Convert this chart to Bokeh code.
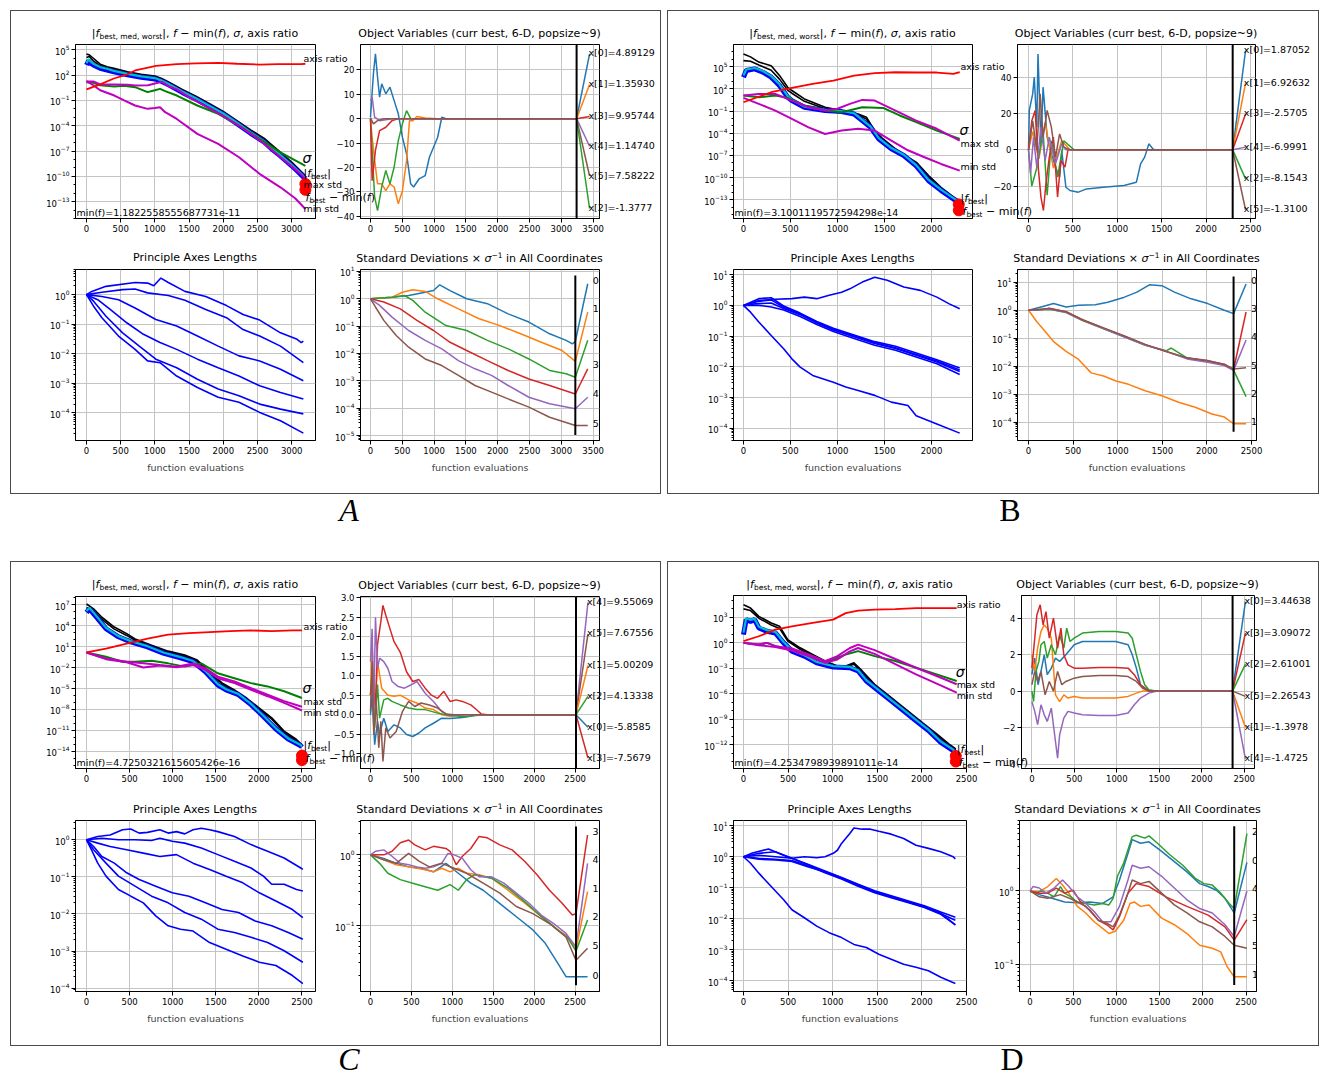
from bokeh.plotting import figure
from bokeh.models import Range1d, Label, Span, FixedTicker, Div, Spacer
from bokeh.layouts import row, column
from bokeh.embed import file_html
from bokeh.resources import INLINE

# ===================== DATA (x, log10(y)) for log plots, (x, y) for linear =====================
# ---------- Panel A ----------
A_F_WORST = [(0,4.5),(40,4.4),(100,4.0),(200,3.3),(300,3.0),(400,2.8),(600,2.4),(800,2.1),(1000,1.9),(1100,1.6),(1200,1.2),(1400,0.3),(1600,-0.5),(1800,-1.4),(2000,-2.3),(2200,-3.4),(2400,-4.5),(2600,-5.5),(2700,-6.2),(2800,-6.9),(3000,-8.3),(3100,-9.1),(3200,-9.9)]
A_F_MEDIAN = [(0,4.1),(40,4.2),(100,3.7),(200,3.1),(300,2.8),(400,2.6),(600,2.25),(800,1.95),(1000,1.75),(1100,1.45),(1200,1.05),(1400,0.15),(1600,-0.65),(1800,-1.55),(2000,-2.45),(2200,-3.55),(2400,-4.7),(2600,-5.7),(2700,-6.45),(2800,-7.1),(3000,-8.5),(3100,-9.3),(3200,-10.1)]
A_F_BEST = [(0,3.2),(30,3.7),(60,3.4),(100,3.2),(200,2.8),(300,2.6),(400,2.4),(600,2.05),(800,1.75),(1000,1.55),(1100,1.25),(1200,0.85),(1400,-0.05),(1600,-0.85),(1800,-1.75),(2000,-2.65),(2200,-3.75),(2400,-4.9),(2600,-5.95),(2700,-6.7),(2800,-7.35),(3000,-8.75),(3100,-9.5),(3200,-10.3)]
A_F_DIFF = [(0,3.4),(30,3.9),(60,3.6),(100,3.35),(200,2.95),(300,2.75),(400,2.5),(600,2.15),(800,1.85),(1000,1.65),(1100,1.35),(1200,0.95),(1400,0.05),(1600,-0.75),(1800,-1.65),(2000,-2.55),(2200,-3.65),(2400,-4.8),(2600,-5.85),(2700,-6.6),(2800,-7.25),(3000,-8.65),(3100,-9.4),(3200,-10.2)]
A_AXISRATIO = [(0,0.3),(200,0.9),(400,1.6),(600,2.1),(710,2.55),(900,2.9),(1015,3.1),(1320,3.3),(1600,3.4),(1925,3.45),(2200,3.35),(2530,3.25),(2800,3.3),(3140,3.3),(3200,3.35)]
A_SIGMA = [(0,1.16),(100,1.1),(200,0.8),(407,0.65),(550,0.75),(710,0.57),(893,-0.02),(1000,0.2),(1075,0.37),(1150,0.1),(1320,-0.42),(1620,-1.6),(1925,-2.6),(2230,-3.98),(2530,-5.56),(2835,-7.15),(3200,-8.75)]
A_MAXSTD = [(0,1.24),(100,1.25),(200,0.9),(407,0.9),(600,0.85),(710,0.77),(900,0.8),(1000,1.0),(1100,1.2),(1200,0.7),(1320,0.3),(1500,-0.6),(1700,-1.5),(1925,-2.5),(2230,-4.0),(2530,-5.7),(2835,-7.7),(3100,-9.5),(3200,-10.3)]
A_MINSTD = [(0,1.28),(100,0.8),(200,0.2),(407,-0.42),(550,-1.0),(710,-1.6),(893,-2.0),(1000,-1.9),(1075,-1.8),(1150,-2.4),(1320,-3.2),(1620,-4.97),(1925,-6.16),(2230,-7.74),(2530,-9.7),(2835,-11.3),(3050,-12.6),(3200,-13.87)]
A_MIN_DOTS = [(3200,-10.9),(3200,-11.6)]
A_X0 = [(0,0.6),(46,18.4),(78,26.6),(111,17),(143,8.8),(176,14.3),(241,10.2),(306,12.9),(372,7.4),(437,2),(502,-7.6),(567,-14.4),(632,-26.7),(678,-28),(763,-24.7),(860,-23.3),(926,-15.8),(991,-11.7),(1056,-7.6),(1121,0.6),(1186,0),(1317,0),(3240,0)]
A_X1 = [(0,0),(26,-7.6),(65,-17),(111,-26.7),(176,-26.7),(241,-29.5),(306,-26.7),(372,-28),(437,-34.9),(502,-29.5),(567,-17.2),(613,-0.8),(665,-0.8),(730,0.9),(860,0.3),(1056,0),(3240,0)]
A_X2 = [(0,0),(26,-13),(65,-32),(111,-37.7),(176,-28),(241,-21.2),(306,-26.7),(372,-19.8),(437,-9),(502,-2.1),(567,3.3),(632,0),(3240,0)]
A_X3 = [(0,0),(26,-25.4),(78,-13),(143,-4.9),(241,-3.5),(339,-0.8),(437,0),(3240,0)]
A_X4 = [(0,7.4),(26,8.8),(65,0.6),(143,-0.8),(339,0),(3240,0)]
A_X5 = [(0,0.3),(46,-2.1),(111,-0.8),(209,0),(3240,0)]
A_X_LABELS = [(0,26.6,"x[0]=4.89129"),(1,14.0,"x[1]=1.35930"),(3,0.9,"x[3]=9.95744"),(4,-11.3,"x[4]=1.14740"),(5,-23.5,"x[5]=7.58222"),(2,-36.8,"x[2]=-1.3777")]
A_PA1 = [(0,0),(77,0.11),(285,0.28),(710,0.41),(893,0.39),(984,0.3),(1087,0.56),(1196,0.41),(1439,0.11),(1743,-0.06),(2047,-0.37),(2289,-0.67),(2532,-0.86),(2836,-1.29),(3079,-1.51),(3140,-1.62),(3170,-1.57)]
A_PA2 = [(0,0),(225,0.08),(528,0.17),(710,0.19),(893,0.06),(1196,-0.03),(1439,-0.19),(1743,-0.5),(2047,-0.78),(2289,-1.18),(2532,-1.4),(2836,-1.74),(3170,-2.3)]
A_PA3 = [(0,0),(225,-0.06),(468,-0.17),(710,-0.45),(1014,-0.84),(1318,-1.06),(1622,-1.4),(1925,-1.74),(2229,-2.07),(2532,-2.24),(2836,-2.52),(3170,-2.91)]
A_PA4 = [(0,0),(164,-0.17),(346,-0.5),(589,-0.95),(832,-1.34),(1075,-1.62),(1318,-1.85),(1622,-2.18),(1925,-2.47),(2229,-2.75),(2532,-3.08),(2836,-3.31),(3170,-3.53)]
A_PA5 = [(0,0),(103,-0.22),(285,-0.73),(528,-1.29),(771,-1.74),(1014,-2.18),(1318,-2.47),(1622,-2.86),(1925,-3.19),(2229,-3.42),(2532,-3.7),(2836,-3.87),(3170,-4.03)]
A_PA6 = [(0,0),(103,-0.39),(225,-0.78),(468,-1.4),(710,-1.85),(893,-2.24),(1075,-2.3),(1318,-2.75),(1622,-3.14),(1925,-3.47),(2229,-3.64),(2532,-3.98),(2836,-4.26),(3170,-4.68)]
A_SD0 = [(0,0),(339,0.06),(600,0.12),(860,0.24),(991,0.3),(1088,0.51),(1251,0.3),(1512,0.0),(1838,-0.18),(2164,-0.55),(2490,-0.85),(2816,-1.28),(3076,-1.52),(3174,-1.65),(3220,-1.56)]
A_SD1 = [(0,0),(339,0.06),(502,0.24),(665,0.33),(860,0.27),(1056,0.0),(1382,-0.37),(1708,-0.73),(2034,-0.98),(2360,-1.28),(2685,-1.59),(3011,-1.89),(3220,-2.29)]
A_SD2 = [(0,0),(339,0.06),(534,0.12),(665,-0.06),(860,-0.49),(1186,-0.98),(1512,-1.16),(1838,-1.52),(2164,-1.83),(2490,-2.2),(2816,-2.62),(3076,-2.74),(3220,-2.87)]
A_SD3 = [(0,0),(209,-0.12),(469,-0.37),(730,-0.79),(991,-1.16),(1251,-1.59),(1512,-1.89),(1838,-2.26),(2164,-2.62),(2490,-2.93),(2816,-3.17),(3220,-3.48)]
A_SD4 = [(0,0),(143,-0.24),(339,-0.67),(600,-1.16),(860,-1.52),(1121,-1.83),(1382,-2.26),(1643,-2.56),(1903,-2.8),(2164,-3.17),(2490,-3.6),(2816,-3.84),(3220,-4.02)]
A_SD5 = [(0,0),(78,-0.3),(209,-0.79),(404,-1.34),(600,-1.77),(860,-2.2),(1121,-2.44),(1382,-2.8),(1643,-3.17),(1903,-3.41),(2164,-3.66),(2490,-3.96),(2816,-4.33),(3220,-4.63)]
A_SD_FAN = [(0,0.55,0.67),(1,-0.49,-0.37),(2,-1.52,-1.4),(3,-2.56,-2.41),(4,-3.6,-3.48),(5,-4.63,-4.55)]
A_MINF = "min(f)=1.1822558555687731e-11"

# ---------- Panel B ----------
B_F_WORST = [(0,6.7),(75,6.3),(163,5.6),(295,5.1),(383,3.8),(471,2.2),(515,1.76),(648,0.63),(868,-0.5),(1044,-0.94),(1220,-1.4),(1308,-1.84),(1396,-3.64),(1485,-4.77),(1617,-6.1),(1749,-7.24),(1837,-7.9),(1969,-9.7),(2101,-11.3),(2233,-12.6),(2290,-13.1)]
B_F_MEDIAN = [(0,5.8),(75,5.7),(163,5.2),(295,4.5),(383,3.3),(471,1.8),(515,1.4),(648,0.3),(868,-0.7),(1044,-1.0),(1220,-1.5),(1308,-2.1),(1396,-3.9),(1485,-5.0),(1617,-6.3),(1749,-7.4),(1837,-8.1),(1969,-9.9),(2101,-11.5),(2233,-12.8),(2290,-13.2)]
B_F_BEST = [(0,3.56),(30,4.46),(119,4.68),(207,4.23),(295,3.56),(383,2.43),(471,0.86),(515,0.4),(648,-0.5),(868,-0.94),(1044,-1.08),(1176,-1.4),(1264,-2.3),(1352,-3.2),(1440,-4.77),(1573,-6.1),(1705,-7.0),(1837,-8.4),(1969,-10.4),(2101,-11.7),(2233,-12.87),(2290,-13.3)]
B_F_DIFF = [(0,3.8),(30,4.6),(119,4.8),(207,4.4),(295,3.7),(383,2.6),(471,1.0),(515,0.5),(648,-0.4),(868,-0.85),(1044,-1.0),(1176,-1.3),(1264,-2.2),(1352,-3.1),(1440,-4.65),(1573,-6.0),(1705,-6.9),(1837,-8.3),(1969,-10.3),(2101,-11.6),(2233,-12.75),(2290,-13.2)]
B_AXISRATIO = [(0,0.18),(295,1.53),(515,2.12),(736,2.66),(956,3.1),(1176,3.78),(1396,4.1),(1617,4.23),(1837,4.19),(2057,4.19),(2233,4.0),(2300,4.23)]
B_SIGMA = [(0,1.08),(163,0.86),(339,1.08),(471,0.77),(648,-0.27),(868,-0.94),(1044,-1.17),(1264,-0.5),(1485,-0.58),(1661,-1.6),(1837,-2.5),(2057,-3.64),(2300,-4.77)]
B_MAXSTD = [(0,1.08),(163,1.3),(339,1.3),(515,0.4),(692,-0.5),(868,-0.94),(1000,-0.7),(1132,-0.04),(1264,0.5),(1396,0.4),(1617,-0.94),(1837,-2.3),(2057,-3.4),(2300,-5.0)]
B_MINSTD = [(0,0.77),(163,-0.04),(339,-0.94),(515,-2.07),(692,-3.2),(868,-4.1),(1044,-3.64),(1220,-3.4),(1396,-3.64),(1573,-5.0),(1749,-6.3),(1925,-7.24),(2101,-8.14),(2300,-9.04)]
B_MIN_DOTS = [(2290,-13.6),(2290,-14.4)]
B_X0 = [(0,0),(9,21.7),(47,30.8),(65,40),(93,12.5),(107,52.8),(140,3.3),(164,34.5),(210,7),(257,-2.2),(304,-9.5),(350,-15),(374,-0.4),(421,-20.6),(467,-22.4),(561,-23.3),(654,-21.5),(841,-20.6),(1075,-19.6),(1215,-17.8),(1262,-7.7),(1308,-4),(1355,3.3),(1402,0.5),(1425,0),(2299,0)]
B_X1 = [(0,0),(47,10),(117,-5),(187,15),(280,-10),(374,5),(467,0),(2299,0)]
B_X2 = [(0,0),(37,-20),(93,-10),(164,10),(210,-25),(257,5),(327,-15),(397,5),(514,0),(2299,0)]
B_X3 = [(0,0),(37,16),(75,21.7),(112,-11),(140,-26),(168,-33.4),(196,-18.7),(234,-4),(280,7),(327,-26),(365,-5.9),(411,-9.5),(444,0),(2299,0)]
B_X4 = [(0,0),(23,-13),(56,7),(93,-9.5),(140,12.5),(187,-5.9),(234,7),(304,-7.7),(374,3.3),(421,0),(2299,0)]
B_X5 = [(0,0),(47,16),(93,0),(131,30.8),(164,7),(210,21.7),(257,12.5),(304,-4),(350,8.8),(397,1.5),(467,0),(2299,0)]
B_X_LABELS = [(0,54.7,"x[0]=1.87052"),(1,36.7,"x[1]=6.92632"),(3,19.8,"x[3]=-2.5705"),(4,1.5,"x[4]=-6.9991"),(2,-16.0,"x[2]=-8.1543"),(5,-33.0,"x[5]=-1.3100")]
B_PA1 = [(0,0),(163,0.16),(339,0.2),(515,0.22),(648,0.27),(780,0.22),(912,0.33),(1044,0.43),(1132,0.54),(1264,0.76),(1396,0.92),(1529,0.82),(1705,0.6),(1881,0.49),(2057,0.27),(2189,0.05),(2300,-0.11)]
B_PA2 = [(0,0),(163,0.22),(295,0.25),(427,-0.02),(603,-0.25),(780,-0.52),(956,-0.74),(1176,-0.96),(1396,-1.18),(1617,-1.33),(1837,-1.55),(2057,-1.77),(2300,-2.04)]
B_PA3 = [(0,0),(140,0.12),(295,0.18),(427,-0.06),(603,-0.28),(780,-0.55),(956,-0.78),(1176,-1.0),(1396,-1.22),(1617,-1.38),(1837,-1.6),(2057,-1.81),(2300,-2.1)]
B_PA4 = [(0,0),(120,0.05),(295,0.08),(427,-0.1),(603,-0.3),(780,-0.57),(956,-0.8),(1176,-1.02),(1396,-1.24),(1617,-1.4),(1837,-1.62),(2057,-1.84),(2300,-2.15)]
B_PA5 = [(0,0),(163,0.0),(295,-0.05),(427,-0.15),(603,-0.36),(780,-0.62),(956,-0.85),(1176,-1.08),(1396,-1.3),(1617,-1.46),(1837,-1.68),(2057,-1.9),(2300,-2.25)]
B_PA6 = [(0,0),(75,-0.22),(163,-0.54),(295,-0.98),(427,-1.41),(515,-1.74),(603,-2.01),(736,-2.28),(956,-2.5),(1088,-2.66),(1220,-2.77),(1396,-2.93),(1573,-3.15),(1749,-3.26),(1837,-3.59),(2057,-3.86),(2300,-4.16)]
B_SD0 = [(0,0),(140,0.12),(280,0.24),(421,0.12),(561,0.18),(748,0.2),(888,0.29),(1075,0.47),(1215,0.65),(1355,0.91),(1495,0.88),(1636,0.65),(1823,0.41),(2009,0.24),(2196,0.0),(2299,-0.12)]
B_SD1 = [(0,0),(93,-0.41),(187,-0.76),(280,-1.12),(421,-1.47),(561,-1.76),(701,-2.24),(841,-2.35),(981,-2.53),(1121,-2.65),(1308,-2.88),(1495,-3.06),(1682,-3.29),(1869,-3.47),(2056,-3.71),(2196,-3.82),(2299,-4.06)]
B_SD2 = [(0,0),(234,0.04),(421,-0.08),(607,-0.37),(841,-0.66),(1075,-0.95),(1308,-1.25),(1542,-1.45),(1600,-1.35),(1776,-1.7),(2009,-1.83),(2196,-1.96),(2299,-2.14)]
B_SD3 = [(0,0),(160,0.03),(234,0.07),(421,-0.05),(607,-0.34),(841,-0.64),(1075,-0.93),(1308,-1.23),(1542,-1.48),(1776,-1.72),(2009,-1.81),(2196,-1.93),(2299,-2.12)]
B_SD4 = [(0,0),(234,0.05),(421,-0.07),(607,-0.36),(841,-0.65),(1075,-0.96),(1308,-1.24),(1542,-1.46),(1776,-1.74),(2009,-1.86),(2196,-1.98),(2299,-2.15)]
B_SD5 = [(0,0),(234,0.06),(421,-0.05),(607,-0.35),(841,-0.63),(1075,-0.92),(1308,-1.22),(1542,-1.47),(1776,-1.7),(2009,-1.8),(2196,-1.94),(2299,-2.1)]
B_SD_FAN = [(0,0.94,1.06),(3,-0.06,0.06),(4,-1.06,-0.94),(5,-2.06,-1.96),(2,-3.09,-2.96),(1,-4.06,-3.98)]
B_MINF = "min(f)=3.1001119572594298e-14"

# ---------- Panel C ----------
C_F_WORST = [(0,7.1),(82,6.4),(178,5.2),(322,3.8),(466,2.85),(563,2.1),(755,1.2),(947,0.35),(1140,-0.22),(1284,-0.93),(1428,-2.6),(1572,-4.2),(1716,-5.2),(1861,-6.4),(2005,-7.8),(2149,-9.2),(2293,-11.1),(2437,-12.3),(2500,-13.05)]
C_F_MEDIAN = [(0,6.6),(82,6.0),(178,4.9),(322,3.5),(466,2.6),(563,1.9),(755,1.05),(947,0.2),(1140,-0.4),(1284,-1.05),(1428,-2.75),(1572,-4.35),(1716,-5.35),(1861,-6.55),(2005,-7.95),(2149,-9.4),(2293,-11.3),(2437,-12.5),(2500,-13.2)]
C_F_BEST = [(0,5.9),(34,6.4),(130,5.0),(226,3.55),(370,2.4),(514,1.67),(707,0.96),(899,0.02),(1091,-0.6),(1236,-1.16),(1380,-2.6),(1524,-4.5),(1620,-5.2),(1764,-5.9),(1909,-7.3),(2053,-9.0),(2197,-10.8),(2341,-12.25),(2486,-13.2),(2500,-13.4)]
C_F_DIFF = [(0,6.1),(34,6.55),(130,5.15),(226,3.7),(370,2.5),(514,1.78),(707,1.06),(899,0.12),(1091,-0.5),(1236,-1.06),(1380,-2.5),(1524,-4.4),(1620,-5.1),(1764,-5.8),(1909,-7.2),(2053,-8.9),(2197,-10.7),(2341,-12.15),(2486,-13.1),(2500,-13.3)]
C_AXISRATIO = [(0,0.16),(226,0.72),(466,1.43),(707,2.14),(947,2.7),(1188,2.94),(1428,3.08),(1668,3.22),(1909,3.32),(2149,3.22),(2389,3.32),(2500,3.32)]
C_SIGMA = [(0,0.16),(226,-0.46),(418,-1.16),(563,-1.16),(755,-1.02),(947,-1.4),(1140,-1.87),(1332,-1.4),(1524,-2.82),(1716,-3.52),(1909,-4.23),(2101,-4.7),(2293,-5.4),(2500,-6.36)]
C_MAXSTD = [(0,0.16),(226,-0.7),(466,-1.16),(659,-1.4),(851,-1.64),(1043,-1.87),(1236,-1.4),(1380,-2.1),(1524,-3.3),(1716,-4.0),(1909,-4.94),(2101,-5.9),(2293,-6.8),(2500,-7.6)]
C_MINSTD = [(0,0.16),(226,-0.8),(466,-1.25),(659,-2.0),(851,-1.7),(1043,-1.97),(1236,-1.64),(1380,-2.34),(1524,-3.52),(1716,-4.23),(1909,-5.18),(2101,-6.1),(2293,-7.06),(2500,-8.15)]
C_MIN_DOTS = [(2500,-14.6),(2500,-15.25)]
C_X0 = [(0,0),(20,0.5),(51,-0.77),(86,-0.17),(111,-0.51),(162,-0.09),(212,-0.43),(288,-0.26),(364,-0.34),(440,-0.51),(516,-0.56),(592,-0.47),(668,-0.34),(769,-0.22),(870,-0.09),(972,-0.1),(1123,-0.07),(1275,-0.02),(1427,0),(2510,0)]
C_X1 = [(0,0.5),(20,1.8),(51,-0.17),(86,1.36),(137,0.68),(212,0.5),(288,0.47),(364,0.5),(466,0.38),(567,0.3),(668,0.17),(769,0.13),(870,0),(972,-0.04),(1123,0),(2510,0)]
C_X2 = [(0,0.5),(20,1.1),(51,-0.34),(86,0.77),(111,-0.09),(162,0.38),(212,0.42),(263,0.34),(364,0.25),(466,0.17),(567,0.13),(668,0.13),(820,0.04),(972,-0.02),(1174,-0.05),(1326,0),(2510,0)]
C_X3 = [(0,0.5),(25,1.0),(61,0.25),(86,1.8),(127,2.4),(152,2.8),(187,2.55),(238,2.2),(288,1.87),(364,1.6),(440,1.1),(516,0.85),(592,0.9),(668,0.68),(744,0.5),(820,0.42),(896,0.6),(972,0.34),(1047,0.38),(1123,0.34),(1225,0.25),(1300,0.12),(1351,0.02),(1427,0),(2510,0)]
C_X4 = [(0,1.36),(20,2.2),(40,0.08),(61,2.5),(86,1.19),(111,1.45),(162,1.36),(212,1.19),(263,0.85),(339,0.72),(415,0.68),(491,0.76),(567,0.85),(668,0.55),(769,0.34),(870,0.08),(946,0),(2510,0)]
C_X5 = [(0,0.08),(20,1.36),(40,-0.51),(71,0.34),(101,-0.85),(127,-0.17),(152,-1.2),(187,-0.34),(238,-0.6),(314,-0.43),(390,0.08),(466,0.34),(541,0.21),(617,0.3),(719,0.25),(820,0.17),(921,0.02),(1022,0),(2510,0)]
C_X_LABELS = [(4,2.88,"x[4]=9.55069"),(5,2.07,"x[5]=7.67556"),(1,1.26,"x[1]=5.00209"),(2,0.47,"x[2]=4.13338"),(0,-0.32,"x[0]=-5.8585"),(3,-1.11,"x[3]=-7.5679")]
C_PA1 = [(0,0),(130,0.09),(274,0.13),(418,0.27),(514,0.29),(611,0.18),(707,0.2),(851,0.27),(947,0.18),(1043,0.22),(1140,0.16),(1236,0.27),(1332,0.31),(1428,0.27),(1524,0.22),(1716,0.09),(1909,-0.13),(2101,-0.31),(2293,-0.49),(2486,-0.76),(2510,-0.8)]
C_PA2 = [(0,0),(178,0.04),(370,0),(563,0),(755,-0.02),(851,0.04),(995,-0.04),(1140,-0.09),(1332,-0.22),(1524,-0.4),(1716,-0.58),(1909,-0.76),(2053,-0.98),(2149,-1.2),(2293,-1.2),(2437,-1.34),(2510,-1.38)]
C_PA3 = [(0,0),(130,-0.09),(274,-0.18),(466,-0.27),(659,-0.36),(851,-0.45),(1043,-0.4),(1236,-0.63),(1428,-0.8),(1620,-0.98),(1813,-1.16),(2005,-1.43),(2197,-1.65),(2389,-1.88),(2510,-2.1)]
C_PA4 = [(0,0),(82,-0.18),(178,-0.45),(322,-0.63),(466,-0.89),(611,-1.07),(803,-1.25),(995,-1.43),(1188,-1.52),(1380,-1.7),(1572,-1.88),(1764,-1.96),(1957,-2.19),(2149,-2.32),(2341,-2.5),(2510,-2.68)]
C_PA5 = [(0,0),(82,-0.27),(226,-0.63),(370,-0.98),(563,-1.25),(755,-1.52),(947,-1.7),(1140,-1.96),(1332,-2.14),(1524,-2.41),(1716,-2.5),(1909,-2.63),(2101,-2.77),(2293,-2.99),(2510,-3.3)]
C_PA6 = [(0,0),(58,-0.27),(130,-0.63),(226,-0.98),(370,-1.34),(514,-1.52),(659,-1.7),(803,-2.05),(947,-2.32),(1091,-2.41),(1236,-2.46),(1428,-2.77),(1620,-2.95),(1813,-3.13),(2005,-3.3),(2197,-3.39),(2389,-3.66),(2510,-3.88)]
C_SD0 = [(0,0),(162,-0.05),(314,-0.12),(466,-0.17),(617,-0.19),(769,-0.24),(921,-0.12),(1073,-0.26),(1225,-0.4),(1376,-0.5),(1528,-0.64),(1680,-0.78),(1832,-0.92),(1983,-1.06),(2135,-1.25),(2287,-1.53),(2388,-1.72),(2510,-1.72)]
C_SD1 = [(0,0),(162,-0.07),(314,-0.14),(466,-0.17),(668,-0.21),(769,-0.24),(870,-0.19),(972,-0.24),(1073,-0.19),(1174,-0.26),(1326,-0.28),(1478,-0.33),(1680,-0.5),(1882,-0.68),(2085,-0.87),(2287,-1.06),(2414,-1.16),(2510,-1.34)]
C_SD2 = [(0,0),(111,-0.12),(212,-0.26),(364,-0.35),(516,-0.4),(668,-0.45),(820,-0.5),(972,-0.42),(1073,-0.5),(1174,-0.35),(1275,-0.28),(1478,-0.33),(1680,-0.47),(1882,-0.66),(2085,-0.87),(2287,-1.06),(2414,-1.18),(2510,-1.36)]
C_SD3 = [(0,0),(162,0),(263,0.05),(364,0.17),(466,0.21),(541,0.14),(668,0.07),(769,0.12),(921,0.09),(972,0.05),(1047,-0.14),(1123,-0.02),(1225,0.09),(1326,0.26),(1427,0.24),(1579,0.14),(1730,0.07),(1882,-0.09),(2034,-0.28),(2186,-0.5),(2338,-0.68),(2465,-0.85),(2510,-0.83)]
C_SD4 = [(0,0),(61,0.05),(162,0.07),(263,-0.02),(364,-0.12),(466,-0.14),(567,-0.17),(668,-0.19),(769,-0.17),(870,-0.12),(946,0.02),(1022,0),(1123,-0.05),(1225,-0.21),(1326,-0.31),(1478,-0.31),(1629,-0.4),(1781,-0.54),(1933,-0.68),(2085,-0.85),(2237,-0.97),(2388,-1.11),(2510,-1.3)]
C_SD5 = [(0,0),(162,-0.07),(314,-0.12),(466,0.02),(592,-0.09),(719,-0.17),(870,-0.12),(1022,-0.19),(1174,-0.26),(1376,-0.4),(1579,-0.54),(1781,-0.73),(1983,-0.83),(2186,-0.97),(2388,-1.16),(2510,-1.49)]
C_SD_FAN = [(3,0.28,0.33),(4,-0.12,-0.07),(1,-0.52,-0.47),(2,-0.92,-0.87),(5,-1.32,-1.28),(0,-1.72,-1.7)]
C_MINF = "min(f)=4.7250321615605426e-16"

# ---------- Panel D ----------
D_F_WORST = [(0,4.48),(79,4.09),(172,3.12),(311,2.34),(404,1.95),(496,0.39),(635,-0.58),(775,-1.36),(914,-2.14),(1053,-2.73),(1146,-2.73),(1238,-2.34),(1331,-3.3),(1470,-4.87),(1609,-6.04),(1748,-7.2),(1888,-8.38),(2027,-9.54),(2166,-10.7),(2305,-11.9),(2380,-12.47)]
D_F_MEDIAN = [(0,4.0),(79,3.8),(172,2.9),(311,2.1),(404,1.7),(496,0.2),(635,-0.75),(775,-1.5),(914,-2.3),(1053,-2.8),(1146,-2.8),(1238,-2.5),(1331,-3.5),(1470,-5.0),(1609,-6.2),(1748,-7.35),(1888,-8.5),(2027,-9.7),(2166,-10.85),(2305,-12.05),(2380,-12.6)]
D_F_BEST = [(0,0.97),(30,2.73),(79,2.53),(125,2.73),(172,1.75),(264,1.36),(357,1.17),(450,0.0),(543,-0.97),(682,-1.56),(821,-2.34),(1006,-2.84),(1192,-2.92),(1285,-3.31),(1377,-4.48),(1517,-5.65),(1656,-6.82),(1795,-7.99),(1934,-9.15),(2073,-10.3),(2212,-11.7),(2351,-12.66),(2380,-13.05)]
D_F_DIFF = [(0,1.2),(30,2.9),(79,2.7),(125,2.85),(172,1.9),(264,1.5),(357,1.3),(450,0.1),(543,-0.87),(682,-1.46),(821,-2.24),(1006,-2.74),(1192,-2.82),(1285,-3.21),(1377,-4.38),(1517,-5.55),(1656,-6.72),(1795,-7.89),(1934,-9.05),(2073,-10.2),(2212,-11.6),(2351,-12.56),(2380,-12.9)]
D_AXISRATIO = [(0,0.2),(172,0.78),(357,1.56),(543,1.95),(775,2.34),(1006,2.73),(1146,3.5),(1285,3.78),(1470,3.9),(1702,3.97),(1934,4.09),(2166,4.09),(2390,4.09)]
D_SIGMA = [(0,0),(172,-0.19),(264,0),(357,-0.39),(543,-0.78),(728,-1.36),(914,-2.14),(1006,-1.95),(1146,-1.36),(1285,-0.97),(1470,-1.56),(1702,-2.14),(1934,-2.92),(2166,-3.7),(2390,-4.48)]
D_MAXSTD = [(0,0),(172,-0.19),(264,0),(357,-0.39),(543,-0.66),(728,-1.36),(914,-2.14),(1053,-1.56),(1192,-0.6),(1285,-0.2),(1470,-0.85),(1702,-1.9),(1934,-2.92),(2166,-3.9),(2390,-4.87)]
D_MINSTD = [(0,0),(172,-0.27),(357,-0.5),(543,-0.9),(728,-1.56),(914,-2.34),(1053,-1.95),(1192,-1.0),(1285,-0.6),(1470,-1.3),(1702,-2.5),(1934,-3.7),(2166,-4.8),(2390,-5.84)]
D_MIN_DOTS = [(2380,-13.3),(2380,-13.95)]
D_X0 = [(0,0.9),(34,1.81),(73,0.35),(107,1.08),(146,1.99),(181,0.9),(229,1.26),(278,1.81),(327,1.63),(400,1.99),(498,2.54),(596,2.72),(791,2.72),(986,2.72),(1133,2.54),(1182,1.99),(1230,1.26),(1279,0.35),(1377,0),(2363,0)]
D_X1 = [(0,1.99),(34,1.08),(68,2.36),(107,3.27),(146,3.63),(181,3.45),(229,2.9),(278,-0.2),(327,-0.57),(376,-0.2),(425,-0.38),(498,-0.29),(596,-0.38),(791,-0.38),(986,-0.38),(1133,-0.29),(1230,-0.11),(1304,0),(2363,0)]
D_X2 = [(0,0),(20,-0.57),(49,1.08),(83,1.63),(107,2.54),(146,2.72),(181,1.81),(229,2.54),(278,1.99),(327,3.09),(376,2.36),(410,3.45),(449,2.72),(498,2.9),(596,3.18),(791,3.27),(986,3.27),(1133,3.18),(1182,2.9),(1230,1.99),(1279,1.08),(1328,0.35),(1377,0.07),(1475,0),(2363,0)]
D_X3 = [(0,1.26),(34,2.9),(59,4.18),(98,4.73),(132,3.63),(166,4.36),(205,2.9),(254,4.0),(303,2.36),(342,3.45),(376,1.99),(425,1.44),(498,1.26),(596,1.26),(791,1.3),(986,1.3),(1133,1.26),(1206,0.9),(1279,0.35),(1377,0),(2363,0)]
D_X4 = [(0,-0.57),(34,-1.11),(68,-1.84),(107,-0.75),(146,-1.3),(181,-1.66),(229,-0.93),(278,-2.76),(303,-3.67),(327,-2.39),(376,-1.48),(425,-1.11),(498,-1.2),(596,-1.3),(791,-1.33),(986,-1.33),(1133,-1.2),(1206,-0.75),(1279,-0.38),(1377,-0.11),(1475,0),(2363,0)]
D_X5 = [(0,0.35),(34,1.08),(68,0.53),(107,1.08),(156,-0.2),(205,0.53),(254,0),(303,1.08),(352,0.35),(400,0.53),(498,0.71),(596,0.8),(791,0.86),(986,0.86),(1133,0.8),(1230,0.53),(1304,0.16),(1377,0),(2363,0)]
D_X_LABELS = [(0,4.91,"x[0]=3.44638"),(3,3.18,"x[3]=3.09072"),(2,1.48,"x[2]=2.61001"),(5,-0.29,"x[5]=2.26543"),(1,-1.99,"x[1]=-1.3978"),(4,-3.71,"x[4]=-1.4725")]
D_PA1 = [(0,0),(172,0.05),(357,0),(543,-0.05),(682,0),(821,-0.03),(914,0),(1006,0.11),(1053,0.21),(1099,0.43),(1192,0.75),(1238,0.93),(1331,0.89),(1424,0.89),(1517,0.82),(1656,0.73),(1795,0.59),(1934,0.37),(2073,0.27),(2212,0.16),(2351,0),(2375,-0.07)]
D_PA2 = [(0,0),(100,0.12),(280,0.25),(450,0.05),(728,-0.25),(914,-0.46),(1099,-0.67),(1285,-0.89),(1470,-1.1),(1656,-1.26),(1841,-1.42),(2027,-1.58),(2212,-1.78),(2375,-1.95)]
D_PA3 = [(0,0),(172,0.11),(357,0.16),(543,-0.05),(728,-0.27),(914,-0.5),(1099,-0.7),(1285,-0.93),(1470,-1.14),(1656,-1.3),(1841,-1.46),(2027,-1.62),(2212,-1.84),(2375,-2.05)]
D_PA4 = [(0,0),(172,-0.05),(357,-0.08),(543,-0.12),(728,-0.3),(914,-0.52),(1099,-0.72),(1285,-0.95),(1470,-1.16),(1656,-1.32),(1841,-1.48),(2027,-1.64),(2212,-1.86),(2375,-2.2)]
D_PA5 = [(0,0),(172,-0.08),(357,-0.1),(543,-0.15),(728,-0.33),(914,-0.48),(1099,-0.68),(1285,-0.9),(1470,-1.12),(1656,-1.28),(1841,-1.45),(2027,-1.6),(2212,-1.82),(2375,-2.2)]
D_PA6 = [(0,0),(79,-0.21),(172,-0.53),(311,-0.96),(450,-1.39),(543,-1.71),(682,-1.97),(821,-2.24),(960,-2.45),(1099,-2.61),(1238,-2.83),(1377,-2.93),(1517,-3.15),(1656,-3.31),(1795,-3.47),(1934,-3.57),(2073,-3.68),(2212,-3.89),(2375,-4.09)]
D_SD0 = [(0,0),(107,-0.05),(254,-0.1),(400,-0.15),(547,-0.16),(693,-0.15),(840,-0.17),(962,-0.08),(1035,0.15),(1133,0.51),(1182,0.7),(1279,0.65),(1377,0.67),(1523,0.54),(1670,0.4),(1816,0.26),(1963,0.1),(2061,0.06),(2158,0.01),(2256,-0.1),(2363,-0.3)]
D_SD1 = [(0,0),(107,-0.01),(205,0.06),(303,0.17),(376,0.08),(449,-0.03),(547,-0.21),(645,-0.3),(742,-0.42),(840,-0.51),(913,-0.58),(986,-0.55),(1084,-0.4),(1157,-0.17),(1206,-0.15),(1279,-0.21),(1377,-0.19),(1523,-0.37),(1670,-0.46),(1816,-0.58),(1963,-0.74),(2109,-0.78),(2207,-0.83),(2280,-1.03),(2363,-1.17)]
D_SD2 = [(0,0),(59,-0.03),(132,0),(205,-0.03),(278,-0.08),(352,0.06),(400,-0.03),(474,-0.08),(547,-0.15),(645,-0.17),(742,-0.19),(840,-0.17),(913,-0.19),(962,-0.1),(1011,0.2),(1084,0.38),(1133,0.56),(1182,0.74),(1230,0.76),(1328,0.72),(1377,0.75),(1475,0.65),(1621,0.49),(1768,0.35),(1914,0.17),(2012,0.1),(2109,0.08),(2207,-0.03),(2305,-0.17),(2363,-0.24)]
D_SD3 = [(0,0),(107,-0.03),(205,-0.03),(303,0.04),(400,-0.03),(498,0.01),(596,-0.17),(693,-0.26),(791,-0.4),(889,-0.46),(962,-0.53),(1035,-0.35),(1133,-0.03),(1230,0.1),(1377,0.06),(1572,-0.08),(1816,-0.21),(2061,-0.33),(2256,-0.49),(2363,-0.67)]
D_SD4 = [(0,0),(34,0.06),(107,0.04),(181,-0.03),(278,0.04),(376,0.15),(449,0.06),(547,-0.08),(645,-0.17),(742,-0.28),(840,-0.42),(937,-0.42),(1035,-0.21),(1133,0.15),(1182,0.35),(1279,0.31),(1377,0.33),(1523,0.2),(1670,0.04),(1816,-0.12),(1963,-0.24),(2109,-0.3),(2256,-0.46),(2363,-0.62)]
D_SD5 = [(0,0),(107,-0.08),(205,-0.1),(352,-0.05),(498,-0.12),(645,-0.21),(791,-0.4),(889,-0.44),(962,-0.49),(1035,-0.33),(1133,-0.03),(1182,0.15),(1279,0.1),(1377,0.13),(1523,-0.03),(1670,-0.19),(1816,-0.3),(1963,-0.42),(2109,-0.49),(2256,-0.62),(2363,-0.74)]
D_SD_FAN = [(2,0.78,0.81),(0,0.39,0.42),(4,0.0,0.04),(3,-0.39,-0.36),(5,-0.78,-0.75),(1,-1.17,-1.14)]
D_MINF = "min(f)=4.2534798939891011e-14"

# ===================== per-panel configuration (ranges, ticks, positions) =====================
CFG = {
    "A": dict(ox=11, oy=11, w=649, h=482, xs=330, ys=245,
              tl=(75, 315, 44, 218), tr=(360, 599, 44, 218), bl=(75, 315, 268, 440), br=(360, 599, 269, 440),
              xl=(-161, 3348), xr=(-157, 3600), tly=(-15.0, 5.63), tryr=(-40.9, 30.4), bly=(-4.93, 0.85), bry=(-5.18, 1.07),
              xlt=list(range(0, 3001, 500)), xrt=list(range(0, 3501, 500)),
              tlt=[5, 2, -1, -4, -7, -10, -13], trt=[-40, -30, -20, -10, 0, 10, 20], blt=[0, -1, -2, -3, -4], brt=[1, 0, -1, -2, -3, -4, -5],
              trfmt="%d", tr_end=(3240, 3444, 3435), br_end=(3220, 3415), br_v=(-4.98, 0.85),
              txt=dict(xe=3180, ratio=3.65, ratio_dy=-2, sigma=-8.9, maxstd=-10.6, minstd=-13.7, fbest=-10.1, fdiff=-11.7)),
    "B": dict(ox=668, oy=11, w=650, h=482, xs=988, ys=245,
              tl=(733, 972, 44, 218), tr=(1017, 1255, 44, 218), bl=(733, 972, 269, 440), br=(1017, 1256, 269, 440),
              xl=(-106, 2436), xr=(-124, 2556), tly=(-15.5, 7.97), tryr=(-37.8, 58), bly=(-4.4, 1.17), bry=(-4.66, 1.46),
              xlt=list(range(0, 2001, 500)), xrt=list(range(0, 2501, 500)),
              tlt=[5, 2, -1, -4, -7, -10, -13], trt=[-20, 0, 20, 40], blt=[1, 0, -1, -2, -3, -4], brt=[1, 0, -1, -2, -3, -4],
              trfmt="%d", tr_end=(2299, 2444, 2430), br_end=(2299, 2439), br_v=(-4.35, 1.21),
              txt=dict(xe=2314, ratio=4.37, ratio_dy=-4, sigma=-4.54, maxstd=-4.54, minstd=-8.68, fbest=-13.2, fdiff=-14.1)),
    "C": dict(ox=11, oy=562, w=649, h=483, xs=330, ys=796,
              tl=(75, 315, 595, 769), tr=(360, 599, 596, 768), bl=(75, 315, 820, 992), br=(360, 599, 820, 991),
              xl=(-128, 2657), xr=(-122, 2797), tly=(-16.45, 8.17), tryr=(-1.38, 3.03), bly=(-4.09, 0.52), bry=(-1.93, 0.485),
              xlt=list(range(0, 2501, 500)), xrt=list(range(0, 2501, 500)),
              tlt=[7, 4, 1, -2, -5, -8, -11, -14], trt=[-1.0, -0.5, 0.0, 0.5, 1.0, 1.5, 2.0, 2.5, 3.0], blt=[0, -1, -2, -3, -4], brt=[0, -1],
              trfmt="%.1f", tr_end=(2510, 2656, 2650), br_end=(2510, 2651), br_v=(-1.84, 0.4),
              txt=dict(xe=2523, ratio=3.55, ratio_dy=-1, sigma=-5.88, maxstd=-6.83, minstd=-7.77, fbest=-13.67, fdiff=-14.28)),
    "D": dict(ox=668, oy=562, w=650, h=483, xs=988, ys=796,
              tl=(733, 966, 595, 769), tr=(1021, 1254, 595, 768), bl=(733, 966, 820, 992), br=(1019, 1256, 820, 991),
              xl=(-112, 2500), xr=(-122, 2621), tly=(-14.77, 5.57), tryr=(-4.24, 5.24), bly=(-4.35, 1.17), bry=(-1.37, 0.96),
              xlt=list(range(0, 2501, 500)), xrt=list(range(0, 2501, 500)),
              tlt=[3, 0, -3, -6, -9, -12], trt=[-4, -2, 0, 2, 4], blt=[1, 0, -1, -2, -3, -4], brt=[0, -1],
              trfmt="%d", tr_end=(2363, 2514, 2508), br_end=(2363, 2510), br_v=(-1.28, 0.88),
              txt=dict(xe=2396, ratio=4.36, ratio_dy=0, sigma=-4.28, maxstd=-4.75, minstd=-5.53, fbest=-12.97, fdiff=-13.44)),
}

DATA = {
    "A": dict(worst=A_F_WORST, median=A_F_MEDIAN, best=A_F_BEST, diff=A_F_DIFF, ratio=A_AXISRATIO, sigma=A_SIGMA,
              maxstd=A_MAXSTD, minstd=A_MINSTD, dots=A_MIN_DOTS, minf=A_MINF,
              xv=[A_X0, A_X1, A_X2, A_X3, A_X4, A_X5], xlab=A_X_LABELS,
              pa=[A_PA1, A_PA2, A_PA3, A_PA4, A_PA5, A_PA6], sd=[A_SD0, A_SD1, A_SD2, A_SD3, A_SD4, A_SD5], sdfan=A_SD_FAN),
    "B": dict(worst=B_F_WORST, median=B_F_MEDIAN, best=B_F_BEST, diff=B_F_DIFF, ratio=B_AXISRATIO, sigma=B_SIGMA,
              maxstd=B_MAXSTD, minstd=B_MINSTD, dots=B_MIN_DOTS, minf=B_MINF,
              xv=[B_X0, B_X1, B_X2, B_X3, B_X4, B_X5], xlab=B_X_LABELS,
              pa=[B_PA1, B_PA2, B_PA3, B_PA4, B_PA5, B_PA6], sd=[B_SD0, B_SD1, B_SD2, B_SD3, B_SD4, B_SD5], sdfan=B_SD_FAN),
    "C": dict(worst=C_F_WORST, median=C_F_MEDIAN, best=C_F_BEST, diff=C_F_DIFF, ratio=C_AXISRATIO, sigma=C_SIGMA,
              maxstd=C_MAXSTD, minstd=C_MINSTD, dots=C_MIN_DOTS, minf=C_MINF,
              xv=[C_X0, C_X1, C_X2, C_X3, C_X4, C_X5], xlab=C_X_LABELS,
              pa=[C_PA1, C_PA2, C_PA3, C_PA4, C_PA5, C_PA6], sd=[C_SD0, C_SD1, C_SD2, C_SD3, C_SD4, C_SD5], sdfan=C_SD_FAN),
    "D": dict(worst=D_F_WORST, median=D_F_MEDIAN, best=D_F_BEST, diff=D_F_DIFF, ratio=D_AXISRATIO, sigma=D_SIGMA,
              maxstd=D_MAXSTD, minstd=D_MINSTD, dots=D_MIN_DOTS, minf=D_MINF,
              xv=[D_X0, D_X1, D_X2, D_X3, D_X4, D_X5], xlab=D_X_LABELS,
              pa=[D_PA1, D_PA2, D_PA3, D_PA4, D_PA5, D_PA6], sd=[D_SD0, D_SD1, D_SD2, D_SD3, D_SD4, D_SD5], sdfan=D_SD_FAN),
}

# ===================== drawing =====================
FONT = "DejaVu Sans"
TAB = ["#1f77b4", "#ff7f0e", "#2ca02c", "#d62728", "#9467bd", "#8c564b"]
MINUS = "\u2212"
TICK_PX = "8.5px"
GRID = "#c4c4c4"
SUB = '<sub style="font-size:0.68em;vertical-align:-0.28em;line-height:0">%s</sub>'
SUP = '<sup style="font-size:0.68em;vertical-align:0.5em;line-height:0">%s</sup>'


def lab(p, x, y, s, size, align="left", xo=0, yo=0, style="normal", baseline="middle"):
    p.add_layout(Label(x=x, y=y, text=s, text_font=FONT, text_font_size="%spx" % size,
                       text_align=align, text_baseline=baseline, x_offset=xo, y_offset=yo,
                       text_font_style=style, text_color="black"))


def span(x, y, html, size, align="left"):
    tx = {"left": "0", "center": "-50%", "right": "-100%"}[align]
    return ('<span style="position:absolute;left:%.1fpx;top:%.1fpx;transform:translate(%s,-50%%);'
            'white-space:nowrap;font-family:\'DejaVu Sans\',sans-serif;font-size:%.1fpx;line-height:1;color:#000;">%s</span>'
            % (x, y, tx, size, html))


def fmap(frame, xr, yr):
    x0, x1, y0, y1 = frame

    def f(x, y):
        return (x0 + (x - xr[0]) / float(xr[1] - xr[0]) * (x1 - x0),
                y1 - (y - yr[0]) / float(yr[1] - yr[0]) * (y1 - y0))
    return f


def spread(items):
    """push apart vertically overlapping labels (items: dicts with y and h)"""
    items.sort(key=lambda d: d["y"])
    for _ in range(120):
        moved = False
        for a, b in zip(items[:-1], items[1:]):
            need = (a["h"] + b["h"]) / 2.0
            d = need - (b["y"] - a["y"])
            if d > 0.05:
                a["y"] -= d / 2.0
                b["y"] += d / 2.0
                moved = True
        if not moved:
            break
    return items


def logline(p, pts, color, width):
    p.line([a for a, _ in pts], [10 ** b for _, b in pts], line_color=color, line_width=width)


def linline(p, pts, color, width):
    p.line([a for a, _ in pts], [b for _, b in pts], line_color=color, line_width=width)


def make_fig(fw, fh, frame, fx0, fy0, xr, yr, ylog, xticks, yticks, yfmt=None, xlabel=None, minor="decade"):
    x0, x1, y0, y1 = frame
    p = figure(width=fw, height=fh, x_range=Range1d(*xr),
               y_range=Range1d(10 ** yr[0], 10 ** yr[1]) if ylog else Range1d(*yr),
               y_axis_type="log" if ylog else "linear",
               output_backend="svg", toolbar_location=None,
               min_border_left=x0 - fx0, min_border_right=fx0 + fw - x1,
               min_border_top=y0 - fy0, min_border_bottom=fy0 + fh - y1)
    p.title.visible = False
    p.background_fill_color = "white"
    p.border_fill_color = "white"
    p.outline_line_color = "black"
    p.outline_line_width = 1
    p.outline_line_alpha = 1
    p.xaxis.ticker = FixedTicker(ticks=xticks)
    if ylog:
        lo, hi = int(yr[0]) - 2, int(yr[1]) + 2
        if minor == "decade":
            mt = [10.0 ** k for k in range(lo, hi + 1)]
        else:
            mt = [m * 10.0 ** k for k in range(lo, hi + 1) for m in range(1, 10)]
        p.yaxis.ticker = FixedTicker(ticks=[10.0 ** e for e in yticks], minor_ticks=mt)
    else:
        p.yaxis.ticker = FixedTicker(ticks=yticks)
        p.yaxis.major_label_overrides = {t: (yfmt % t).replace("-", MINUS) for t in yticks}
    for ax in (p.xaxis[0], p.yaxis[0]):
        ax.major_label_text_font = FONT
        ax.major_label_text_font_size = TICK_PX
        ax.major_label_text_color = "black"
        ax.axis_line_color = "black"
        ax.major_tick_line_color = "black"
        ax.major_tick_out = 4
        ax.major_tick_in = 0
        ax.minor_tick_out = 2
        ax.minor_tick_in = 0
        ax.minor_tick_line_color = "black"
        ax.major_label_standoff = 2
    p.xaxis.minor_tick_line_color = None
    if not ylog:
        p.yaxis.minor_tick_line_color = None
    p.grid.grid_line_color = GRID
    p.grid.grid_line_width = 1
    if xlabel:
        p.xaxis.axis_label = xlabel
        p.xaxis.axis_label_text_font = FONT
        p.xaxis.axis_label_text_font_size = "9.5px"
        p.xaxis.axis_label_text_font_style = "normal"
        p.xaxis.axis_label_standoff = 5
    return p


def build_panel(key):
    G = CFG[key]
    D = DATA[key]
    ox, oy, xs, ys = G["ox"], G["oy"], G["xs"], G["ys"]
    wl, wr = xs - ox, ox + G["w"] - xs
    ht, hb = ys - oy, oy + G["h"] - ys
    spans = []

    def add(x, y, html, size, align="left"):
        spans.append(span(x - ox, y - oy, html, size, align))

    # ---------------- top-left: f values, sigma, axis ratio
    tl = make_fig(wl, ht, G["tl"], ox, oy, G["xl"], G["tly"], True, G["xlt"], G["tlt"])
    logline(tl, D["worst"], "black", 1.6)
    logline(tl, D["median"], "black", 1.6)
    logline(tl, D["best"], "#0000ff", 5)
    logline(tl, D["diff"], "#00bfbf", 2.2)
    logline(tl, D["sigma"], "#008000", 2)
    logline(tl, D["maxstd"], "#bf00bf", 2)
    logline(tl, D["minstd"], "#bf00bf", 2)
    logline(tl, D["ratio"], "#ff0000", 1.8)
    tl.scatter([a for a, _ in D["dots"]], [10 ** b for _, b in D["dots"]], size=11, color="#ff0000")
    lab(tl, G["xl"][0], 10 ** G["tly"][0], D["minf"], 9.5, baseline="bottom", xo=1, yo=1)
    x0, x1, y0, y1 = G["tl"]
    add((x0 + x1) / 2.0, y0 - 11,
        "|<i>f</i>" + SUB % "best, med, worst" + "|, <i>f</i> " + MINUS + " min(<i>f</i>), <i>\u03c3</i>, axis ratio", 11, "center")
    m = fmap(G["tl"], G["xl"], G["tly"])
    T = G["txt"]
    xe = T["xe"]
    rx, ry = m(xe, T["ratio"])
    add(rx, ry + T["ratio_dy"], "axis ratio", 9.5)
    px_e = m(xe, 0)[0]
    cluster = [
        dict(y=m(xe, T["sigma"])[1], h=16, x=px_e - 1, html="<i>\u03c3</i>", size=14),
        dict(y=m(xe, T["maxstd"])[1], h=11, x=px_e, html="max std", size=9.5),
        dict(y=m(xe, T["minstd"])[1], h=11, x=px_e, html="min std", size=9.5),
        dict(y=m(xe, T["fbest"])[1], h=13, x=px_e, html="|<i>f</i>" + SUB % "best" + "|", size=11),
        dict(y=m(xe, T["fdiff"])[1], h=13, x=px_e + 2,
             html="<i>f</i>" + SUB % "best" + " " + MINUS + " min(<i>f</i>)", size=11),
    ]
    for it in spread(cluster):
        add(it["x"], it["y"], it["html"], it["size"])

    # ---------------- top-right: object variables
    tr = make_fig(wr, ht, G["tr"], xs, oy, G["xr"], G["tryr"], False, G["xrt"], G["trt"], yfmt=G["trfmt"])
    for i, pts in enumerate(D["xv"]):
        linline(tr, pts, TAB[i], 1.5)
    xend, xfan, xlabx = G["tr_end"]
    tr.add_layout(Span(location=xend, dimension="height", line_color="black", line_width=2))
    m2 = fmap(G["tr"], G["xr"], G["tryr"])
    for i, yl, s in D["xlab"]:
        tr.line([xend, xfan], [D["xv"][i][-1][1], yl], line_color=TAB[i], line_width=1.5)
        add(*m2(xlabx, yl), s, 9.5)
    x0, x1, y0, y1 = G["tr"]
    add((x0 + x1) / 2.0, y0 - 11, "Object Variables (curr best, 6-D, popsize~9)", 11, "center")

    # ---------------- bottom-left: principal axes lengths
    bl = make_fig(wl, hb, G["bl"], ox, ys, G["xl"], G["bly"], True, G["xlt"], G["blt"],
                  xlabel="function evaluations", minor="full")
    for pts in D["pa"]:
        logline(bl, pts, "#0000ff", 1.6)
    x0, x1, y0, y1 = G["bl"]
    add((x0 + x1) / 2.0, y0 - 11, "Principle Axes Lengths", 11, "center")

    # ---------------- bottom-right: std deviations
    br = make_fig(wr, hb, G["br"], xs, ys, G["xr"], G["bry"], True, G["xrt"], G["brt"],
                  xlabel="function evaluations", minor="full")
    for i, pts in enumerate(D["sd"]):
        logline(br, pts, TAB[i], 1.5)
    bx, bfan = G["br_end"]
    for i, ye, yl in D["sdfan"]:
        br.line([bx, bfan], [10 ** D["sd"][i][-1][1], 10 ** ye], line_color=TAB[i], line_width=1.5)
        lab(br, bfan, 10 ** yl, str(i), 9.5, xo=5)
    br.line([bx, bx], [10 ** G["br_v"][0], 10 ** G["br_v"][1]], line_color="black", line_width=2)
    x0, x1, y0, y1 = G["br"]
    add((x0 + x1) / 2.0, y0 - 11,
        "Standard Deviations \u00d7 <i>\u03c3</i>" + SUP % (MINUS + "1") + " in All Coordinates", 11, "center")

    panel = column(row(tl, tr), row(bl, br), styles={"border": "1px solid #4a4a4a"})
    html = ('<div style="position:absolute;left:%dpx;top:%dpx;width:%dpx;height:%dpx;overflow:hidden;">%s</div>'
            % (ox, oy, G["w"], G["h"], "".join(spans)))
    return panel, html


pA, hA = build_panel("A")
pB, hB = build_panel("B")
pC, hC = build_panel("C")
pD, hD = build_panel("D")


def letter(s, italic, lh, h):
    return Div(text=s, width=40, height=h, margin=0,
               styles={"font-family": "Liberation Serif", "font-size": "32px",
                       "font-style": "italic" if italic else "normal", "line-height": str(lh),
                       "text-align": "center", "color": "black"})


overlay = Div(text=hA + hB + hC + hD, width=1319, height=1074, margin=0,
              styles={"position": "absolute", "left": "0px", "top": "0px", "z-index": "10",
                      "pointer-events": "none", "overflow": "visible"})

layout = column(
    Spacer(width=10, height=10),
    row(Spacer(width=10, height=10), pA, Spacer(width=6, height=10), pB),
    row(Spacer(width=329, height=67), letter("A", True, 1, 67), Spacer(width=621, height=67), letter("B", False, 1, 67)),
    row(Spacer(width=10, height=10), pC, Spacer(width=6, height=10), pD),
    row(Spacer(width=329, height=28), letter("C", True, 0.85, 28), Spacer(width=623, height=28), letter("D", False, 0.85, 28)),
    overlay,
)

open("out.html", "w").write(file_html(layout, INLINE))
